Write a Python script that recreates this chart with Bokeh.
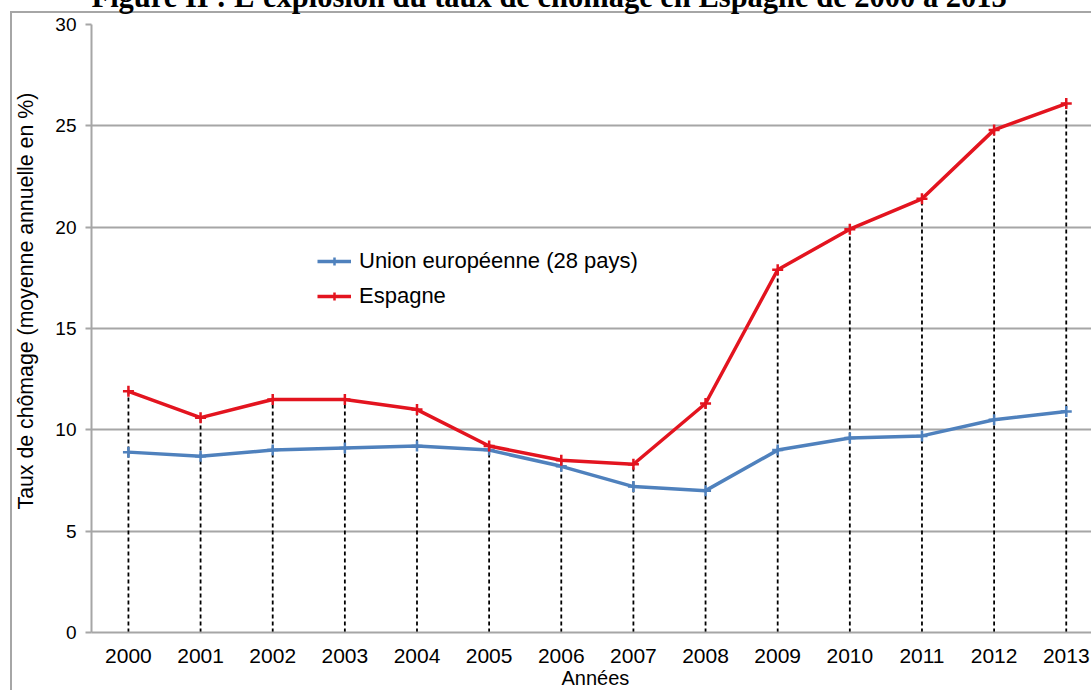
from bokeh.plotting import figure
from bokeh.models import Range1d, FixedTicker, Legend, LegendItem, Title
from bokeh.embed import file_html
from bokeh.resources import INLINE

years = [2000, 2001, 2002, 2003, 2004, 2005, 2006, 2007, 2008, 2009, 2010, 2011, 2012, 2013]
ue28 = [8.9, 8.7, 9.0, 9.1, 9.2, 9.0, 8.2, 7.2, 7.0, 9.0, 9.6, 9.7, 10.5, 10.9]
espagne = [11.9, 10.6, 11.5, 11.5, 11.0, 9.2, 8.5, 8.3, 11.3, 17.9, 19.9, 21.4, 24.8, 26.1]
y_ticks = [0, 5, 10, 15, 20, 25, 30]
title_text = "Figure II : L'explosion du taux de chômage en Espagne de 2000 à 2013"
x_title = "Années"
y_title = "Taux de chômage (moyenne annuelle en %)"

BLUE = "#4f81bd"
RED = "#e3141f"
GRID = "#a6a6a6"
FONT = "Liberation Sans"
SHIFT = 34  # part of the canvas hidden above the window (the cropped title)

p = figure(width=1091, height=692 + SHIFT, output_backend="svg", toolbar_location=None,
           x_range=Range1d(1999.488, 2013.35), y_range=Range1d(0, 30),
           min_border_left=90, min_border_right=0, min_border_top=0, min_border_bottom=57)
p.outline_line_color = None
p.background_fill_color = "white"
p.border_fill_color = None
p.styles = {
    "margin-top": f"-{SHIFT}px",
    "background": (f"linear-gradient(#a6a6a6, #a6a6a6) 10px {11 + SHIFT}px / 2px 100% no-repeat, "
                   f"linear-gradient(#a6a6a6, #a6a6a6) 10px {11 + SHIFT}px / 100% 2px no-repeat, white"),
}

# figure title (its upper part is cropped in the original)
p.title.text = title_text
p.title.text_font = "Liberation Serif"
p.title.text_font_size = "30.5px"
p.title.text_font_style = "bold"
p.title.text_color = "black"
p.title.align = "left"
p.title.offset = 0
p.title.standoff = 22

# axes
p.xaxis.ticker = FixedTicker(ticks=years)
p.yaxis.ticker = FixedTicker(ticks=y_ticks)
for ax in (p.xaxis[0], p.yaxis[0]):
    ax.axis_line_color = GRID
    ax.axis_line_width = 2
    ax.major_label_text_font = FONT
    ax.major_label_text_color = "black"
    ax.minor_tick_line_color = None
p.xaxis.major_label_text_font_size = "21px"
p.yaxis.major_label_text_font_size = "19px"
p.xaxis.major_tick_line_color = None
p.xaxis.major_label_standoff = 10
p.yaxis.major_tick_line_color = GRID
p.yaxis.major_tick_line_width = 2
p.yaxis.major_tick_out = 6
p.yaxis.major_tick_in = 0
p.yaxis.major_label_standoff = 9

p.xgrid.grid_line_color = None
p.ygrid.ticker = FixedTicker(ticks=y_ticks)
p.ygrid.grid_line_color = GRID
p.ygrid.grid_line_width = 2

# axis titles
p.add_layout(Title(text=y_title, align="left", offset=123, standoff=26, vertical_align="top",
                   text_font=FONT, text_font_size="21.3px", text_font_style="normal",
                   text_color="black"), "left")
p.add_layout(Title(text=x_title, align="left", offset=470, standoff=3, vertical_align="top",
                   text_font=FONT, text_font_size="20px", text_font_style="normal",
                   text_color="black"), "below")

# drop lines
p.segment(x0=years, y0=[0] * len(years), x1=years, y1=espagne,
          line_color="black", line_width=1.8, line_dash="4 3")

# series
l_ue = p.line(years, ue28, line_color=BLUE, line_width=3.5)
s_ue = p.scatter(years, ue28, marker="cross", size=11, line_color=BLUE, line_width=2.5)
l_es = p.line(years, espagne, line_color=RED, line_width=3.5)
s_es = p.scatter(years, espagne, marker="cross", size=11, line_color=RED, line_width=2.5)

legend = Legend(items=[LegendItem(label="Union européenne (28 pays)", renderers=[l_ue, s_ue]),
                       LegendItem(label="Espagne", renderers=[l_es, s_es])],
                location=(226, 323), orientation="vertical")
legend.border_line_color = None
legend.background_fill_alpha = 0
legend.label_text_font = FONT
legend.label_text_font_size = "22px"
legend.label_text_color = "black"
legend.glyph_width = 34
legend.glyph_height = 20
legend.label_height = 20
legend.label_standoff = 8
legend.spacing = 9
legend.padding = 5
legend.margin = 0
p.add_layout(legend, "center")

open("out.html", "w").write(file_html(p, INLINE))
